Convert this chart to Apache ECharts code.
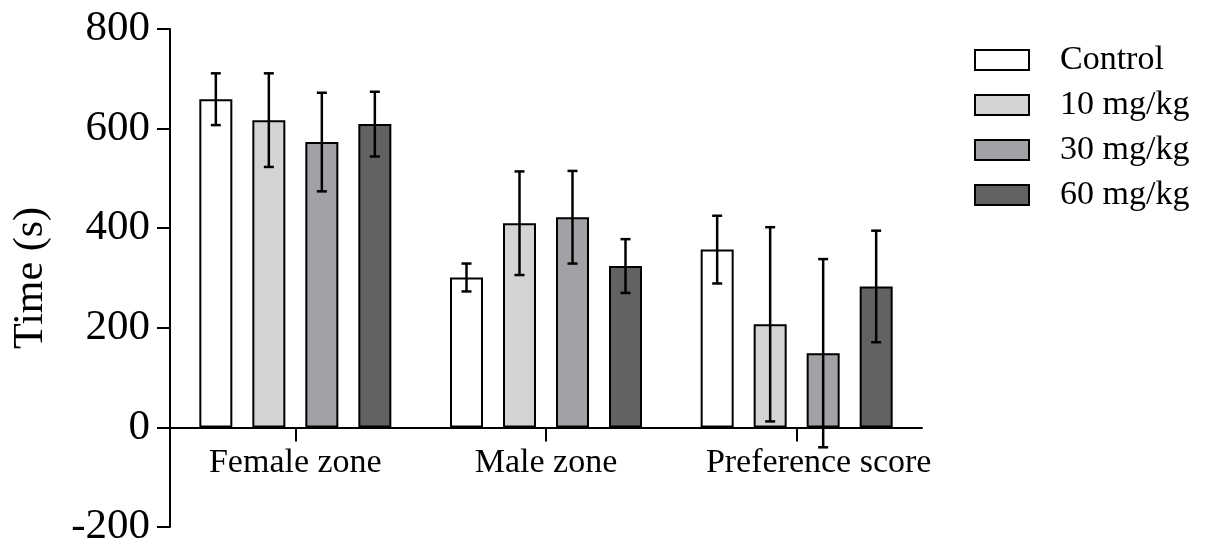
<!DOCTYPE html>
<html>
<head>
<meta charset="utf-8">
<script src="https://cdn.jsdelivr.net/npm/echarts@6/dist/echarts.min.js"></script>
<style>
html,body{margin:0;padding:0;background:#fff;}
#chart{width:1206px;height:546px;}
</style>
</head>
<body>
<div id="chart"></div>
<script>
// ---- data ----
const categories = ['Female zone', 'Male zone', 'Preference score'];
const groupNames = ['Control', '10 mg/kg', '30 mg/kg', '60 mg/kg'];
const controlMean = [659, 301, 357];
const mg10Mean = [617, 410, 207];
const mg30Mean = [573, 422, 149];
const mg60Mean = [609, 324, 283];
const controlErr = [52, 28, 68];
const mg10Err = [94, 104, 195];
const mg30Err = [99, 93, 189];
const mg60Err = [65, 54, 112];
const yTicks = { min: -200, max: 800, interval: 200 };

// ---- style ----
const FONT = 'Liberation Serif';
const colors = ['#ffffff', '#d4d4d4', '#a2a2a6', '#626262'];
const BAR_W = 33;
const GAP_PX = 20;
const GRID = { left: 170, right: 284, top: 29, bottom: 19 };
const gridH = 546 - GRID.top - GRID.bottom;
const zeroOffset = -gridH * (0 - yTicks.min) / (yTicks.max - yTicks.min);
const labelShift = [0, 0, 44]; // extra left padding per category label
const means = [controlMean, mg10Mean, mg30Mean, mg60Mean];
const errs = [controlErr, mg10Err, mg30Err, mg60Err];

const chart = echarts.init(document.getElementById('chart'), null, { renderer: 'canvas' });

const series = [];
groupNames.forEach((name, gi) => {
  series.push({
    name: name,
    type: 'bar',
    data: means[gi],
    barWidth: BAR_W,
    barGap: (GAP_PX / BAR_W * 100).toFixed(2) + '%',
    itemStyle: { color: colors[gi], borderColor: '#000', borderWidth: 2 },
    emphasis: { disabled: true },
    z: 2
  });
});
groupNames.forEach((name, gi) => {
  const data = categories.map((c, ci) => [ci, means[gi][ci] - errs[gi][ci], means[gi][ci] + errs[gi][ci]]);
  series.push({
    type: 'custom',
    data: data,
    encode: { x: 0, y: [1, 2] },
    z: 5,
    silent: true,
    renderItem: function (params, api) {
      const ci = api.value(0);
      const lo = api.coord([ci, api.value(1)]);
      const hi = api.coord([ci, api.value(2)]);
      const offset = (gi - 1.5) * (BAR_W + GAP_PX);
      const x = lo[0] + offset;
      const half = 5;
      const st = { stroke: '#000', lineWidth: 2.5 };
      return {
        type: 'group',
        children: [
          { type: 'line', shape: { x1: x, y1: hi[1], x2: x, y2: lo[1] }, style: st },
          { type: 'line', shape: { x1: x - half, y1: hi[1], x2: x + half, y2: hi[1] }, style: st },
          { type: 'line', shape: { x1: x - half, y1: lo[1], x2: x + half, y2: lo[1] }, style: st }
        ]
      };
    }
  });
});

const option = {
  backgroundColor: '#ffffff',
  animation: false,
  textStyle: { fontFamily: FONT, color: '#000' },
  grid: {
    left: GRID.left, right: GRID.right, top: GRID.top, bottom: GRID.bottom,
    containLabel: false, outerBoundsMode: 'none'
  },
  legend: {
    data: groupNames,
    orient: 'vertical',
    left: 969,
    top: 38,
    itemWidth: 54,
    itemHeight: 20,
    itemGap: 11,
    icon: 'rect',
    itemStyle: { borderColor: '#000', borderWidth: 2 },
    textStyle: { fontFamily: FONT, fontSize: 34, color: '#000', padding: [0, 0, 0, 26] },
    selectedMode: false
  },
  xAxis: {
    type: 'category',
    data: categories.map((c, i) => ({ value: c, textStyle: { padding: [0, 0, 0, labelShift[i]] } })),
    position: 'bottom',
    offset: zeroOffset,
    axisLine: { onZero: false, lineStyle: { color: '#000', width: 2 } },
    axisTick: { show: true, alignWithLabel: true, length: 14, lineStyle: { color: '#000', width: 2 } },
    axisLabel: { interval: 0, fontFamily: FONT, fontSize: 34, color: '#000', margin: 19 },
    splitLine: { show: false }
  },
  yAxis: {
    type: 'value',
    min: yTicks.min,
    max: yTicks.max,
    interval: yTicks.interval,
    name: 'Time (s)',
    nameLocation: 'middle',
    nameRotate: 90,
    nameGap: 118,
    nameTextStyle: { fontFamily: FONT, fontSize: 42, color: '#000' },
    axisLine: { show: true, onZero: false, lineStyle: { color: '#000', width: 2 } },
    axisTick: { show: true, length: 13, lineStyle: { color: '#000', width: 2 } },
    axisLabel: { fontFamily: FONT, fontSize: 43, color: '#000', margin: 20 },
    splitLine: { show: false }
  },
  series: series
};
chart.setOption(option);
</script>
</body>
</html>
